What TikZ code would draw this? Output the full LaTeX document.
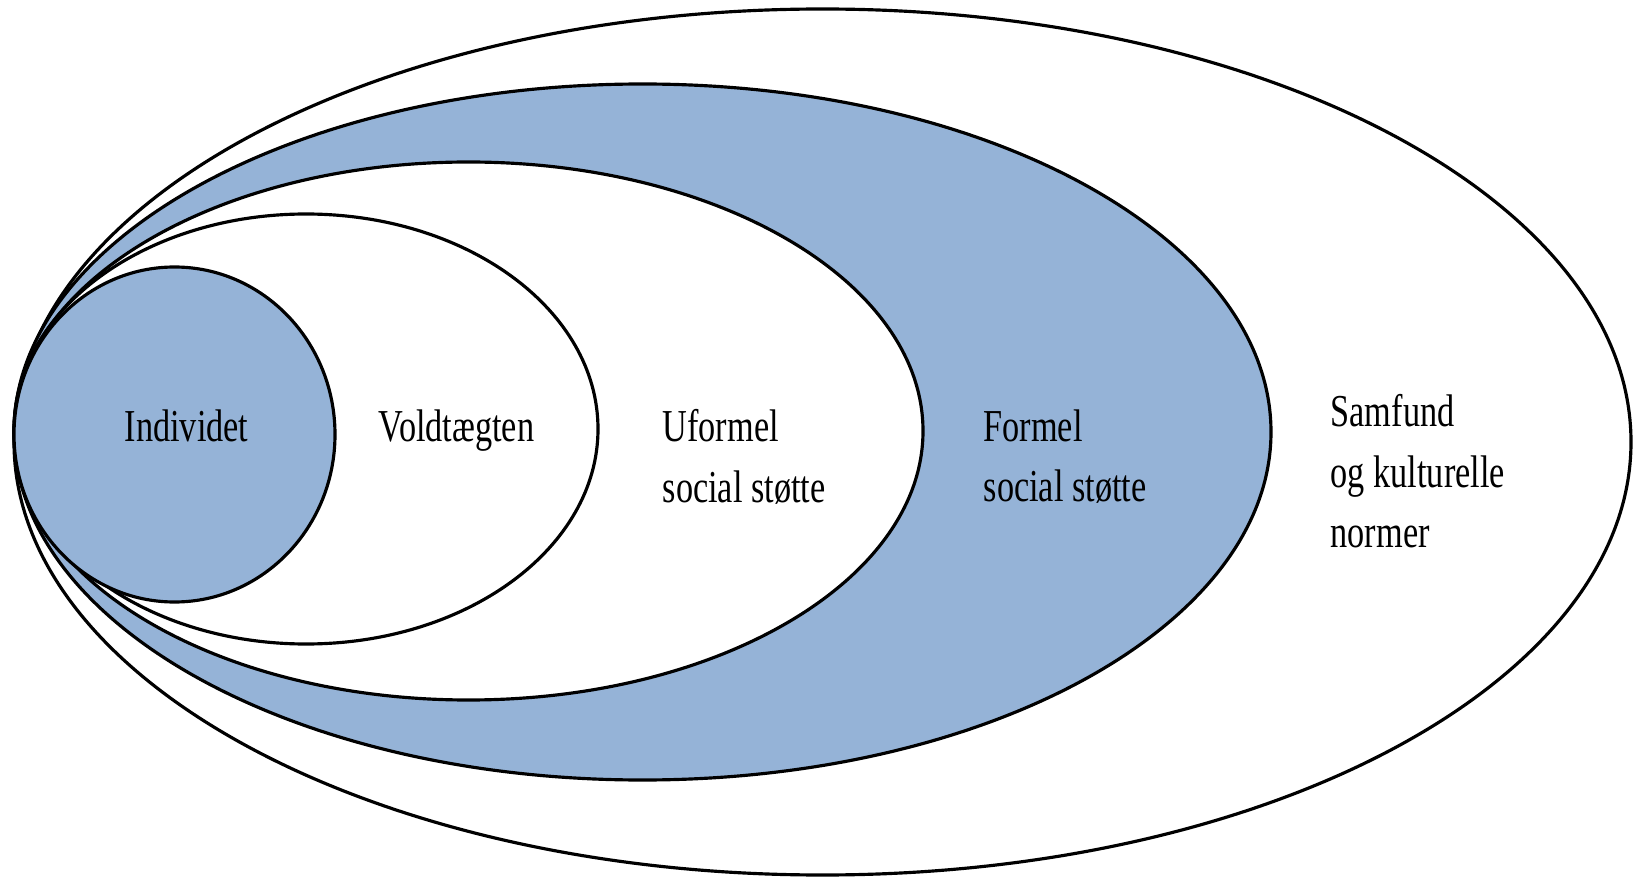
\documentclass[tikz,border=0pt]{standalone}
\usepackage{fontspec}
\setmainfont{Liberation Serif}[FakeStretch=0.75]
\definecolor{ringblue}{RGB}{149,179,215}
\begin{document}
\begin{tikzpicture}[]
    \useasboundingbox (0,0) rectangle (16.34,8.8);
    \foreach \cx/\cy/\rx/\ry/\col in {8.225/4.38/8.085/4.33/white,
                                      6.425/4.48/6.285/3.48/ringblue,
                                      4.685/4.49/4.545/2.69/white,
                                      3.06/4.51/2.92/2.15/white,
                                      1.745/4.455/1.605/1.675/ringblue} {
        \draw[fill=\col, line width=0.9pt] (\cx,\cy) ellipse ({\rx} and {\ry});
    }
    \tikzset{lbl/.style={anchor=north west, inner sep=0, align=left,
                         font=\fontsize{13}{17.2}\selectfont}}
    \node [lbl] (individ) at (1.24,4.71) {Individet};
    \node [lbl] (vold) at (3.78,4.71) {Voldtægten};
    \node [lbl] (uformel) at (6.62,4.71) {Uformel\\social støtte};
    \node [lbl] (formel) at (9.83,4.71) {Formel\\social støtte};
    \node [lbl] (samfund) at (13.30,4.86) {Samfund\\og kulturelle\\normer};
\end{tikzpicture}
\end{document}
